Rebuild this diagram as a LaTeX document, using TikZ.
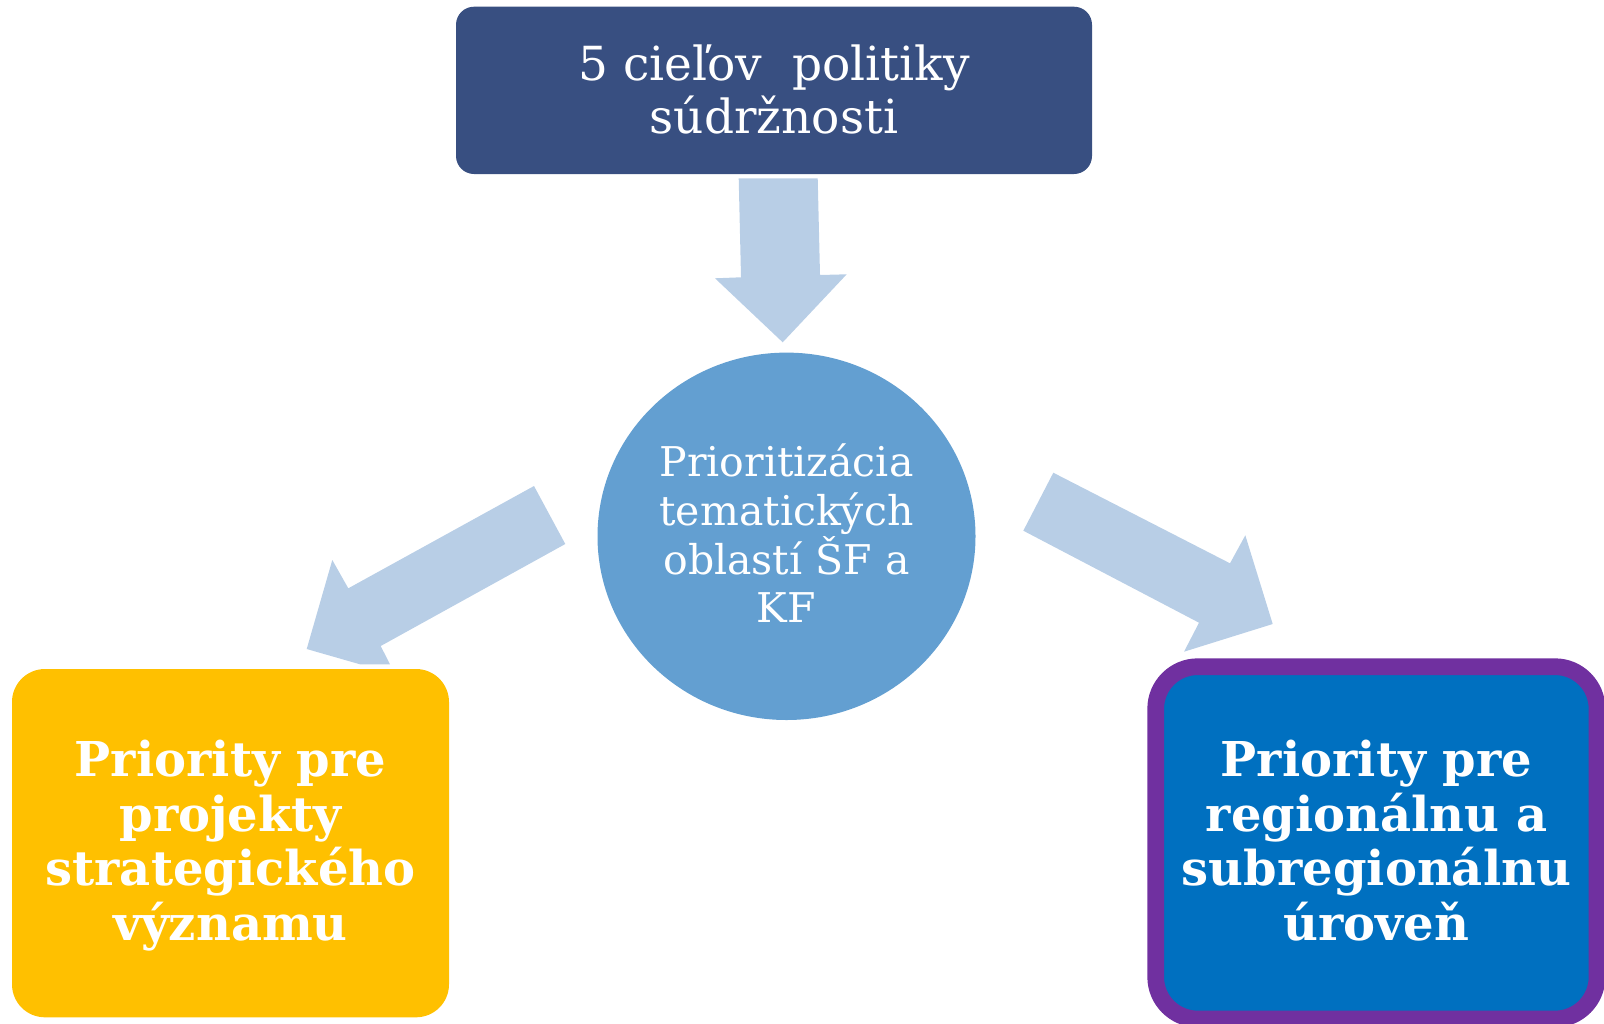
\documentclass[tikz,border=0pt]{standalone}
\usepackage{fontspec}
\setmainfont{DejaVu Serif}
\usetikzlibrary{shapes.geometric}
\definecolor{topblue}{HTML}{384F81}
\definecolor{arrowblue}{HTML}{B8CEE6}
\definecolor{circblue}{HTML}{639FD1}
\definecolor{yel}{HTML}{FFC000}
\definecolor{boxblue}{HTML}{0070C0}
\definecolor{purp}{HTML}{7030A0}
\tikzset{
  shapebase/.style={inner sep=0pt, outer sep=0pt},
  topbox/.style={shapebase, rectangle, rounded corners=9pt, fill=topblue},
  circ/.style={shapebase, ellipse, fill=circblue},
  ybox/.style={shapebase, rectangle, rounded corners=16.5pt, fill=yel},
  bluebox/.style={shapebase, rectangle, rounded corners=21pt, fill=boxblue, draw=purp, line width=8.35pt},
  blockarrow/.style={fill=arrowblue},
  ttop/.style={text=white, align=center, inner sep=0pt, anchor=base, font=\fontsize{23.5pt}{26.65pt}\selectfont},
  tcirc/.style={text=white, align=center, inner sep=0pt, anchor=base, font=\fontsize{20.5pt}{24.35pt}\selectfont},
  tbold/.style={text=white, align=center, inner sep=0pt, anchor=base, font=\bfseries\fontsize{24pt}{27.2pt}\selectfont},
}
\begin{document}
\begin{tikzpicture}[x=0.5pt, y=-0.5pt]
\useasboundingbox (0,0) rectangle (1604,1023);
% block arrows
\fill[blockarrow] (738.7,178.3) -- (817.7,178.3) -- (820,275) -- (846.7,274.3) -- (782.7,342.3) -- (715,278.3) -- (741,277.3) -- cycle;
\fill[blockarrow] (534,486) -- (565.3,544) -- (380.7,646) -- (390,664.3) -- (360,664.3) -- (306.7,649) -- (332.3,560) -- (348.3,588.3) -- cycle;
\fill[blockarrow] (1053.3,472.7) -- (1230,563.3) -- (1245.3,535.3) -- (1272.7,624) -- (1184,651.7) -- (1199,622.7) -- (1023.3,530.7) -- cycle;
% shapes
\node[topbox, minimum width=318pt, minimum height=83.65pt] (top) at (774,90.35) {};
\node[circ, minimum width=189pt, minimum height=183.7pt] (mid) at (786.5,536.3) {};
\node[ybox, minimum width=218.5pt, minimum height=174.15pt] (left) at (230.5,843.15) {};
\node[bluebox, minimum width=220.65pt, minimum height=176.15pt] (right) at (1376.35,842.85) {};
% texts (anchor=base is the baseline of the last line)
\node[ttop] (toptext) at (774,133.3) {5 cieľov\ \ politiky\\súdržnosti};
\node[tcirc] (midtext) at (786.5,622.7) {Prioritizácia\\tematických\\oblastí ŠF a\\KF};
\node[tbold] (lefttext) at (230.5,940) {Priority pre\\projekty\\strategického\\významu};
\node[tbold] (righttext) at (1376.5,940) {Priority pre\\regionálnu a\\subregionálnu\\úroveň};
\end{tikzpicture}
\end{document}
